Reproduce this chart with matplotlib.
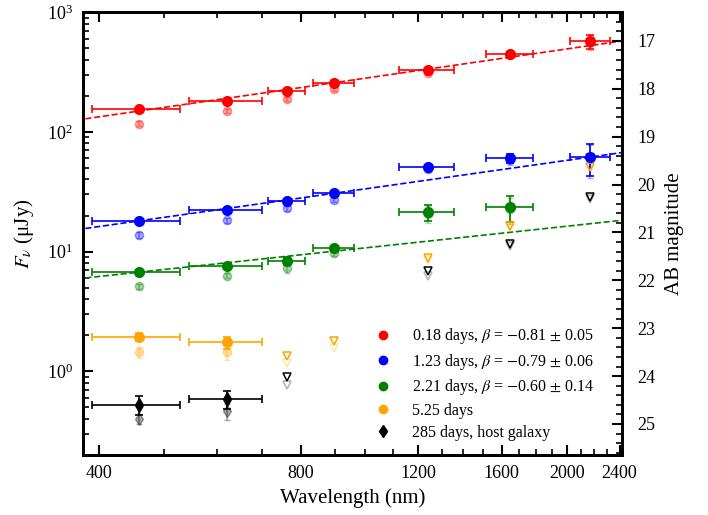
import numpy as np
import matplotlib
matplotlib.use("Agg")
import matplotlib.pyplot as plt
from matplotlib.lines import Line2D
from matplotlib.ticker import FixedLocator, NullFormatter, MultipleLocator

plt.rcParams['font.family'] = ['Liberation Serif', 'DejaVu Serif']
plt.rcParams['mathtext.fontset'] = 'stix'

# filter central wavelengths (nm) and half widths (g r i z J H K)
wl = np.array([459, 622, 764, 899, 1240, 1647, 2170])
wl_err = np.array([69, 78, 48, 64, 117, 133, 150])

# 0.18 days
f1 = [155, 181, 220, 256, 327, 444, 570]
e1 = [5, 6, 8, 9, 12, 22, 75]
f1_obs = [117, 150, 189, 227, 312, 436, 555]
# 1.23 days
f2 = [18.1, 22.1, 26.6, 30.6, 50.4, 59.9, 61.1]
e2 = [0.7, 0.8, 1.0, 1.2, 2.5, 5.5, 18.5]
f2_obs = [13.8, 18.2, 23.0, 27.1, 48.5, 58.0, 59.5]
# 2.21 days (K only an upper limit)
f3 = [6.78, 7.60, 8.37, 10.7, 21.4, 23.4]
e3 = [0.25, 0.3, 0.6, 0.5, 3.3, 5.6]
f3_obs = [5.11, 6.27, 7.26, 9.68, 20.6, 22.6]
ul3_idx = [6]
ul3 = [61]
# 5.25 days
f4 = [1.93, 1.75]
e4 = [0.15, 0.2]
f4_obs = [1.45, 1.45]
ul4_idx = [2, 3, 4, 5, 6]
ul4 = [1.34, 1.79, 8.86, 16.5, 50.4]
ul4_obs = [1.17, 1.58, 8.5, 15.8, 49]
# 285 days, host galaxy
f5 = [0.528, 0.585]
e5 = [0.1, 0.1]
f5_obs = [0.40, 0.465]
e5_obs = [0.04, 0.07]
ul5_idx = [2, 4, 5, 6]
ul5 = [0.90, 6.85, 11.6, 28.3]
ul5_obs = [0.775, 6.3, 11.2, 27.6]

# power-law fits F ~ nu^beta, normalised at 1000 nm
beta = [-0.81, -0.79, -0.60]
f_1000 = [280.6, 33.4, 10.74]

colors = ['red', 'blue', 'green', 'orange', 'black']
labels = [r'0.18 days, $\beta$ = $-$0.81 $\pm$ 0.05',
          r'1.23 days, $\beta$ = $-$0.79 $\pm$ 0.06',
          r'2.21 days, $\beta$ = $-$0.60 $\pm$ 0.14',
          '5.25 days',
          '285 days, host galaxy']

fig = plt.figure(figsize=(7.08, 5.15), dpi=100)
ax = fig.add_axes([0.117, 0.1165, 0.7615, 0.860])

# fitted power laws
lam = np.logspace(np.log10(370), np.log10(2500), 100)
for b, a, c in zip(beta, f_1000, colors):
    ax.plot(lam, a * (lam / 1000.0) ** (-b), '--', color=c, lw=1.2)

detections = [(f1, e1, f1_obs, e1, 'o'), (f2, e2, f2_obs, e2, 'o'),
              (f3, e3, f3_obs, e3, 'o'), (f4, e4, f4_obs, e4, 'o'),
              (f5, e5, f5_obs, e5_obs, 'd')]
for (f, e, fo, eo, m), c in zip(detections, colors):
    n = len(f)
    ax.errorbar(wl[:n], fo, yerr=eo, fmt=m, color=c, alpha=0.35, ms=6,
                capsize=2, elinewidth=1.2, zorder=2)
    ax.errorbar(wl[:n], f, xerr=wl_err[:n], yerr=e, fmt=m, color=c, ms=7,
                capsize=3, elinewidth=1.2, capthick=1.2, zorder=3)

# upper limits
ul_style = dict(ls='none', marker='v', mfc='none', ms=6, mew=1.1)
ax.plot(wl[ul3_idx], ul3, mec='green', zorder=3, **ul_style)
ax.plot(wl[ul4_idx], ul4_obs, mec='orange', alpha=0.3, **ul_style)
ax.plot(wl[ul4_idx], ul4, mec='orange', zorder=3, **ul_style)
ax.plot(wl[ul5_idx], ul5_obs, mec='black', alpha=0.3, **ul_style)
ax.plot(wl[ul5_idx], ul5, mec='black', zorder=3, **ul_style)

ax.set_xscale('log')
ax.set_yscale('log')
ax.set_xlim(378, 2420)
ax.set_ylim(0.2, 1000)

xmaj = [400, 800, 1200, 1600, 2000, 2400]
ax.xaxis.set_major_locator(FixedLocator(xmaj))
ax.set_xticklabels([str(v) for v in xmaj])
ax.xaxis.set_minor_locator(FixedLocator([v for v in range(400, 2500, 100) if v not in xmaj]))
ax.xaxis.set_minor_formatter(NullFormatter())

ax.set_xlabel('Wavelength (nm)', fontsize=15, labelpad=5)
ax.set_ylabel(r'$F_\nu$ (μJy)', fontsize=15, labelpad=8)
ax.tick_params(which='both', direction='in', top=True, right=False, labelsize=13)
ax.tick_params(which='major', length=7, width=1.5)
ax.tick_params(which='minor', length=4.5, width=1.2)
ax.tick_params(axis='x', which='major', pad=7)
ax.tick_params(axis='y', which='major', pad=7)
for s in ax.spines.values():
    s.set_linewidth(2)

# AB magnitude on the right
ax2 = ax.twinx()
ax2.set_ylim(23.9 - 2.5 * np.log10(0.2), 23.9 - 2.5 * np.log10(1000))
ax2.yaxis.set_major_locator(MultipleLocator(1))
ax2.yaxis.set_minor_locator(MultipleLocator(0.2))
ax2.tick_params(which='both', direction='in', labelsize=13)
ax2.tick_params(which='major', length=7, width=1.5, pad=11)
ax2.tick_params(which='minor', length=4.5, width=1.2)
ax2.set_ylabel('AB magnitude', fontsize=15, labelpad=7)
for s in ax2.spines.values():
    s.set_linewidth(2)

handles = [Line2D([], [], ls='none', marker='o', color=c, ms=6) for c in colors[:4]]
handles.append(Line2D([], [], ls='none', marker='d', color='black', ms=6))
ax.legend(handles, labels, loc='lower right', frameon=False, fontsize=11.5,
          handlelength=1.0, handletextpad=1.3, labelspacing=0.35,
          bbox_to_anchor=(0.975, 0.0))

fig.savefig('out.png', dpi=100)
